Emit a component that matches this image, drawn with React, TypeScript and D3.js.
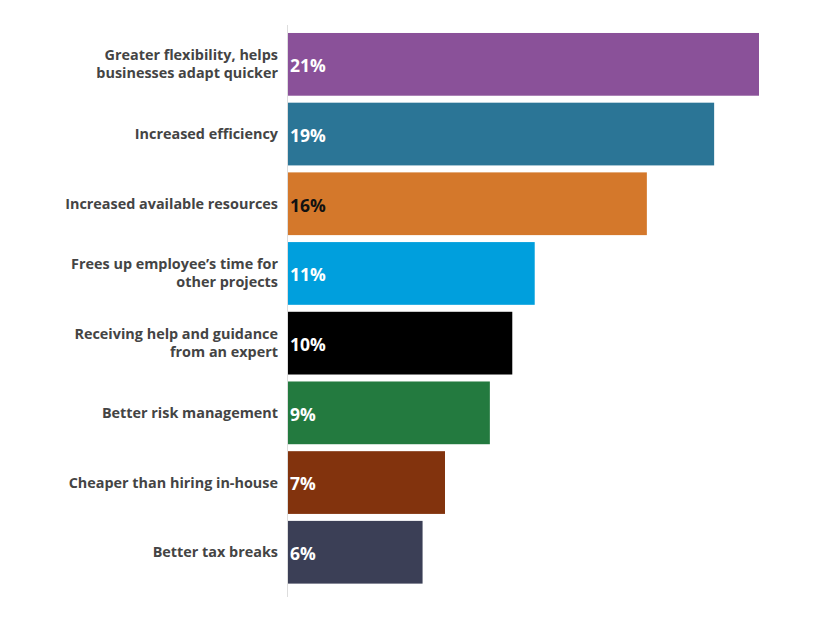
import React from "react";
import * as d3 from "d3";

const categories: string[][] = [
  ["Greater flexibility, helps", "businesses adapt quicker"],
  ["Increased efficiency"],
  ["Increased available resources"],
  ["Frees up employee’s time for", "other projects"],
  ["Receiving help and guidance", "from an expert"],
  ["Better risk management"],
  ["Cheaper than hiring in-house"],
  ["Better tax breaks"],
];
const values: number[] = [21, 19, 16, 11, 10, 9, 7, 6];
const colors: string[] = ["#8A5199", "#2B7596", "#D4782B", "#009FDD", "#000000", "#237A3F", "#82330D", "#3B3F56"];
const labelColors: string[] = ["#fff", "#fff", "#111", "#fff", "#fff", "#fff", "#fff", "#fff"];

export default function App() {
  const W = 821, H = 626;
  const x0 = 288;
  const x = d3.scaleLinear().domain([0, 21]).range([x0, 759]);
  const idx = values.map((_, i) => i);
  const y = d3.scaleBand<number>().domain(idx).range([29.5, 587.1]).paddingInner(0.1).paddingOuter(0.05);
  const font = "'Open Sans', sans-serif";
  return (
    <svg width={W} height={H} style={{ position: "absolute", left: 0, top: 0, background: "#fff" }}>
      {idx.map((i) => {
        const yy = y(i)!;
        const bw = y.bandwidth();
        const cy = yy + bw / 2;
        const lines = categories[i];
        const lh = 18;
        return (
          <g key={i}>
            <rect x={x0} y={yy} width={x(values[i]) - x0} height={bw} fill={colors[i]} />
            <text x={290} y={cy + 1.5} dy="0.36em" fill={labelColors[i]} fontFamily={font} fontWeight={700} fontSize={17.5}>
              {values[i]}%
            </text>
            <text textAnchor="end" fontFamily={font} fontWeight={700} fontSize={14.4} fill="#444">
              {lines.map((l, j) => (
                <tspan key={j} x={278} y={cy - ((lines.length - 1) * lh) / 2 + j * lh} dy="0.35em">
                  {l}
                </tspan>
              ))}
            </text>
          </g>
        );
      })}
      <line x1={287.5} x2={287.5} y1={25} y2={597} stroke="#ddd" strokeWidth={1} />
    </svg>
  );
}
